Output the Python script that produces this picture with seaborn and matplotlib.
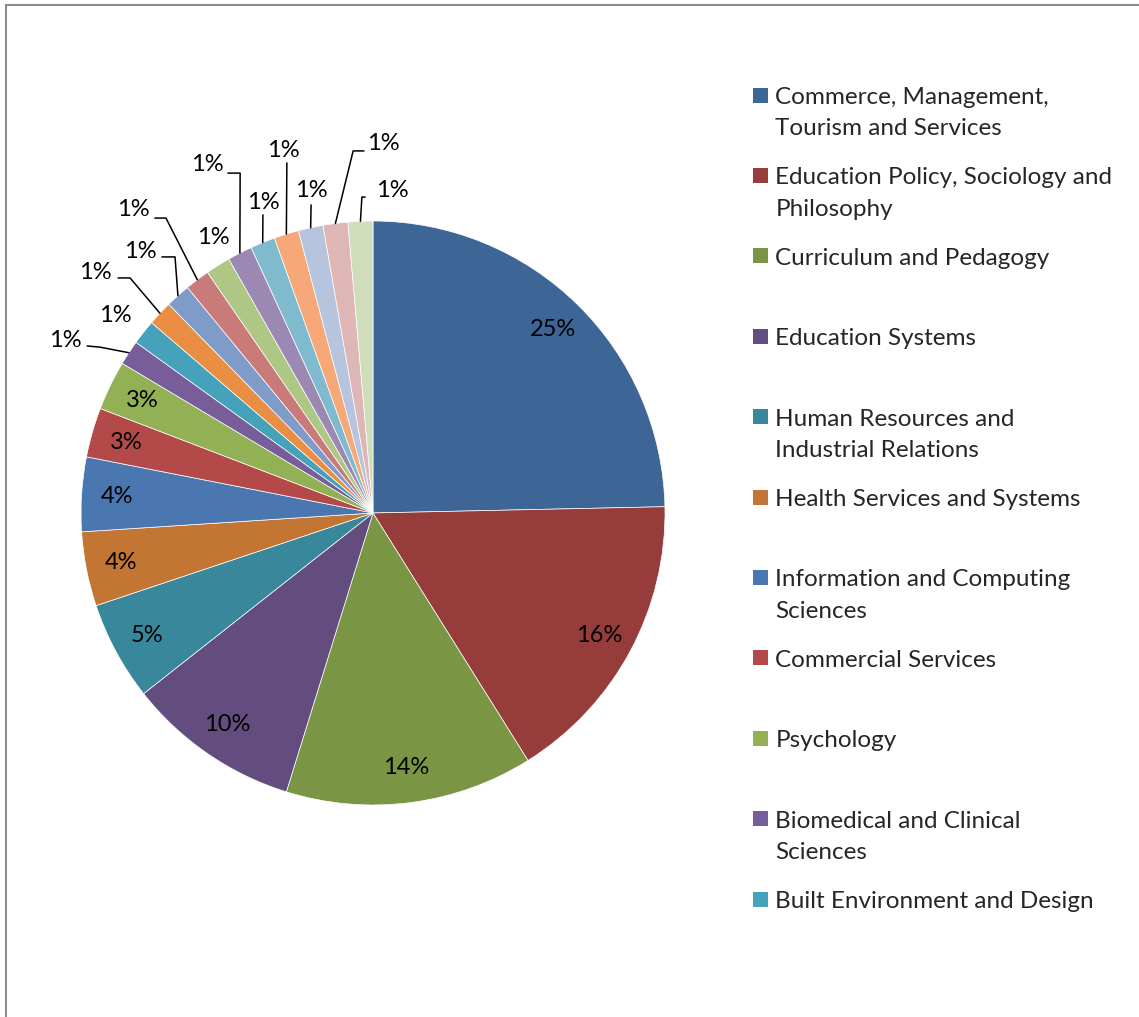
import matplotlib
matplotlib.use("Agg")
import numpy as np
import matplotlib.pyplot as plt
import matplotlib.patches as mpatches
from matplotlib.legend_handler import HandlerPatch
import seaborn as sns

# ---------- data ----------
legend_names = [
    "Commerce, Management,\nTourism and Services",
    "Education Policy, Sociology and\nPhilosophy",
    "Curriculum and Pedagogy",
    "Education Systems",
    "Human Resources and\nIndustrial Relations",
    "Health Services and Systems",
    "Information and Computing\nSciences",
    "Commercial Services",
    "Psychology",
    "Biomedical and Clinical\nSciences",
    "Built Environment and Design",
]
# number of items per field of research (21 slices, legend only shows first 11)
counts = [18, 12, 10, 7, 4, 3, 3, 2, 2, 1, 1, 1, 1, 1, 1, 1, 1, 1, 1, 1, 1]

slice_colors = [
    "#3D6596", "#963C3B", "#7A9544", "#634D7F", "#39879A", "#C37634",
    "#4A77B0", "#B4494A", "#92B155", "#775D99", "#46A2BA", "#E98E42",
    "#7F9BC8", "#C97B7A", "#AFC785", "#9C89B3", "#7FBACE", "#F6A878",
    "#B6C4DE", "#DDB6B5", "#D0DDBB",
]

# ---------- layout of the small outside labels (pie radius units) ----------
first_small = 9
small_label_pos = [
    (-1.055, 0.592), (-0.884, 0.678), (-0.952, 0.825), (-0.798, 0.894),
    (-0.822, 1.038), (-0.548, 0.945), (-0.568, 1.192), (-0.377, 1.065),
    (-0.308, 1.243), (-0.212, 1.106), (0.034, 1.267), (0.065, 1.106),
]
# leader line: (start next to label, elbow) or None
leaders = [
    ((-0.979, 0.572), (-0.935, 0.568)),
    None,
    ((-0.873, 0.805), (-0.832, 0.805)),
    ((-0.723, 0.877), (-0.678, 0.877)),
    ((-0.747, 1.010), (-0.709, 1.010)),
    None,
    ((-0.497, 1.164), (-0.455, 1.164)),
    ((-0.377, 1.021), (-0.377, 1.021)),
    ((-0.295, 1.199), (-0.295, 1.199)),
    ((-0.212, 1.055), (-0.212, 1.055)),
    ((-0.031, 1.240), (-0.068, 1.240)),
    ((-0.027, 1.082), (-0.038, 1.082)),
]

sns.set_theme(style="white")
plt.rcParams["font.family"] = ["Lato", "DejaVu Sans"]
PCT_FS = 17
LEG_FS = 17.5

W, H = 1139, 1017
fig = plt.figure(figsize=(W / 100, H / 100), dpi=100)

# pie centre (373, 513) px, radius 292 px
cx, cy, r = 373, 513, 292
half = 1.25 * r
ax = fig.add_axes([(cx - half) / W, (H - cy - half) / H, 2 * half / W, 2 * half / H])

wedges, texts, autotexts = ax.pie(
    counts,
    colors=slice_colors,
    startangle=90,
    counterclock=False,
    autopct=lambda p: f"{round(p):.0f}%",
    pctdistance=0.88,
    wedgeprops=dict(edgecolor="white", linewidth=0.5),
    textprops=dict(fontsize=PCT_FS, color="black"),
)
ax.set_xlim(-1.25, 1.25)
ax.set_ylim(-1.25, 1.25)
ax.axis("off")

for k, (pos, lead) in enumerate(zip(small_label_pos, leaders)):
    i = first_small + k
    t = autotexts[i]
    t.set_position(pos)
    if lead is not None:
        w = wedges[i]
        mid = np.deg2rad((w.theta1 + w.theta2) / 2)
        edge = (np.cos(mid), np.sin(mid))
        xs = [lead[0][0], lead[1][0], edge[0]]
        ys = [lead[0][1], lead[1][1], edge[1]]
        ax.plot(xs, ys, color="black", lw=1.1, clip_on=False)

# ---------- legend ----------
def top_square(legend, orig_handle, xdescent, ydescent, width, height, fontsize):
    s = 0.62 * fontsize
    return mpatches.Rectangle((-xdescent, -ydescent + 0.78 * fontsize), s, s)

handles = [mpatches.Patch(facecolor=w.get_facecolor(), edgecolor="none") for w in wedges[:11]]
labels = [n if "\n" in n else n + "\n " for n in legend_names]
leg = fig.legend(
    handles, labels,
    loc="upper left",
    bbox_to_anchor=(753 / W, 1 - 87 / H),
    frameon=False,
    fontsize=LEG_FS,
    handlelength=0.62,
    handleheight=0.7,
    handletextpad=0.3,
    labelspacing=1.16,
    borderpad=0,
    borderaxespad=0,
    handler_map={mpatches.Patch: HandlerPatch(patch_func=top_square)},
)
for t in leg.get_texts():
    t.set_linespacing(1.6)

# chart border (only left and top are inside the picture)
fig.patches.append(mpatches.Rectangle(
    (6 / W, -0.1), 1.2, (H - 5) / H + 0.1, transform=fig.transFigure,
    fill=False, edgecolor="#8C8C8C", linewidth=1.5))

fig.savefig("out.png", dpi=100)
